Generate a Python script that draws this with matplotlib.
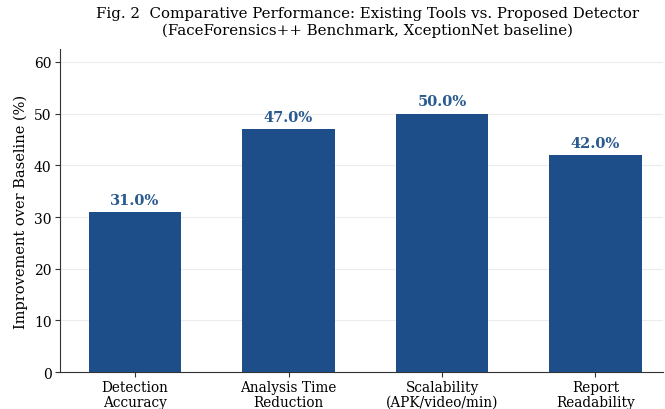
import matplotlib
matplotlib.use("Agg")
import matplotlib.pyplot as plt

categories = ["Detection\nAccuracy", "Analysis Time\nReduction", "Scalability\n(APK/video/min)", "Report\nReadability"]
improvement = [31.0, 47.0, 50.0, 42.0]
yticks = [0, 10, 20, 30, 40, 50, 60]

plt.rcParams["font.family"] = "DejaVu Serif"

fig = plt.figure(figsize=(6.65, 4.1), dpi=100)
ax = fig.add_axes([0.09, 0.09, 0.907, 0.788])

x = range(len(categories))
bars = ax.bar(x, improvement, width=0.6, color="#1d4e89", zorder=3)
for b, v in zip(bars, improvement):
    ax.text(b.get_x() + b.get_width() / 2, v + 1.0, f"{v:.1f}%", ha="center", va="bottom",
            fontsize=10.5, fontweight="bold", color="#2a5a8f")

ax.set_xticks(list(x))
ax.set_xticklabels(categories, fontsize=9.8, linespacing=1.05)
ax.set_yticks(yticks)
ax.tick_params(axis="y", labelsize=10)
ax.tick_params(axis="both", length=3.5, pad=2.5, color="#333333")
ax.set_ylim(0, 62.5)
ax.set_xlim(-0.49, 3.44)
ax.set_ylabel("Improvement over Baseline (%)", fontsize=10.5)
ax.yaxis.grid(True, color="#ececec", linewidth=0.8, zorder=0)
ax.spines["top"].set_visible(False)
ax.spines["right"].set_visible(False)
ax.spines["left"].set_color("#333333")
ax.spines["bottom"].set_color("#333333")

fig.suptitle("Fig. 2  Comparative Performance: Existing Tools vs. Proposed Detector\n(FaceForensics++ Benchmark, XceptionNet baseline)",
             fontsize=10.8, x=0.553, y=0.982)

fig.savefig("out.png", dpi=100)
